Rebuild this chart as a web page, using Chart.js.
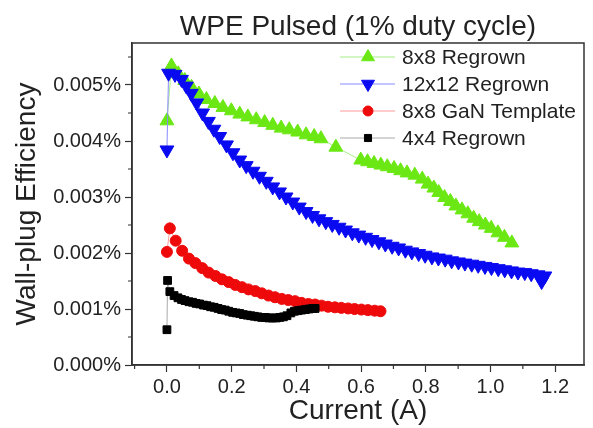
<!DOCTYPE html>
<html lang="en">
<head>
  <meta charset="UTF-8" />
  <title>WPE Pulsed</title>
  <script src="https://cdn.jsdelivr.net/npm/chart.js"></script>
  <style>
    body {
      margin: 0;
      background: #ffffff;
    }
    #chart {
      display: block;
    }
  </style>
</head>
<body>
  <canvas id="chart" width="593" height="428"></canvas>

  <script>
    // Current (A) and wall-plug efficiency (%) for each device
    const i8x8 = [0, 0.014, 0.035, 0.055, 0.076, 0.099, 0.122, 0.148, 0.173, 0.199, 0.225, 0.250, 0.276, 0.302, 0.327,
      0.353, 0.378, 0.404, 0.430, 0.455, 0.476, 0.522, 0.599, 0.620, 0.640, 0.661, 0.681, 0.702, 0.722, 0.742,
      0.766, 0.789, 0.807, 0.825, 0.840, 0.858, 0.876, 0.893, 0.912, 0.930, 0.948, 0.965, 0.984, 1.002, 1.023,
      1.043, 1.066];
    const w8x8 = [0.00436, 0.00534, 0.00520, 0.00508, 0.00496, 0.00484, 0.00474, 0.00467, 0.00460, 0.00454, 0.00448,
      0.00443, 0.00438, 0.00433, 0.00428, 0.00423, 0.00420, 0.00416, 0.00411, 0.00408, 0.00404, 0.00389, 0.00366,
      0.00363, 0.00360, 0.00357, 0.00354, 0.00351, 0.00347, 0.00343, 0.00339, 0.00332, 0.00323, 0.00316, 0.00308,
      0.00299, 0.00292, 0.00284, 0.00277, 0.00270, 0.00262, 0.00256, 0.00250, 0.00244, 0.00236, 0.00228, 0.00218];

    const i12x12 = [0, 0.005, 0.025, 0.045, 0.060, 0.075, 0.092, 0.110, 0.128, 0.145, 0.163, 0.184, 0.204, 0.225,
      0.245, 0.266, 0.286, 0.307, 0.327, 0.348, 0.368, 0.389, 0.409, 0.430, 0.450, 0.470, 0.491, 0.511, 0.532,
      0.552, 0.573, 0.593, 0.614, 0.634, 0.655, 0.675, 0.696, 0.716, 0.737, 0.757, 0.778, 0.798, 0.819, 0.839,
      0.860, 0.880, 0.901, 0.921, 0.942, 0.962, 0.983, 1.003, 1.024, 1.044, 1.065, 1.085, 1.106, 1.126, 1.147,
      1.168, 1.158];
    const w12x12 = [0.00384, 0.00521, 0.00519, 0.00510, 0.00498, 0.00485, 0.00468, 0.00450, 0.00435, 0.00421,
      0.00408, 0.00393, 0.00379, 0.00366, 0.00356, 0.00346, 0.00337, 0.00328, 0.00318, 0.00309, 0.00300, 0.00291,
      0.00282, 0.00274, 0.00267, 0.00261, 0.00256, 0.00251, 0.00246, 0.00241, 0.00236, 0.00232, 0.00228, 0.00224,
      0.00220, 0.00216, 0.00212, 0.00209, 0.00205, 0.00202, 0.00199, 0.00196, 0.00193, 0.00191, 0.00189, 0.00186,
      0.00184, 0.00182, 0.00180, 0.00178, 0.00176, 0.00174, 0.00172, 0.00170, 0.00168, 0.00166, 0.00165, 0.00163,
      0.00161, 0.00159, 0.00149];

    const iGaN = [0, 0.009, 0.027, 0.047, 0.068, 0.088, 0.109, 0.129, 0.150, 0.170, 0.191, 0.211, 0.232, 0.252,
      0.273, 0.293, 0.314, 0.334, 0.355, 0.375, 0.396, 0.416, 0.437, 0.458, 0.478, 0.498, 0.519, 0.539, 0.560,
      0.580, 0.601, 0.621, 0.642, 0.660];
    const wGaN = [0.00202, 0.00244, 0.00222, 0.00204, 0.00190, 0.00182, 0.00173, 0.00165, 0.00159, 0.00153, 0.00148,
      0.00143, 0.00139, 0.00135, 0.00132, 0.00128, 0.00124, 0.00121, 0.00118, 0.00116, 0.00114, 0.00111, 0.00109,
      0.00108, 0.00106, 0.00104, 0.00103, 0.00102, 0.00101, 0.00100, 0.00099, 0.00098, 0.00097, 0.00096];

    const i4x4 = [0, 0.002, 0.009, 0.022, 0.034, 0.045, 0.056, 0.068, 0.079, 0.090, 0.101, 0.113, 0.124, 0.135,
      0.146, 0.158, 0.169, 0.180, 0.191, 0.203, 0.214, 0.225, 0.236, 0.248, 0.259, 0.270, 0.281, 0.293, 0.304,
      0.315, 0.326, 0.338, 0.349, 0.360, 0.371, 0.383, 0.394, 0.405, 0.416, 0.428, 0.439, 0.450, 0.458];
    const w4x4 = [0.00063, 0.00151, 0.00131, 0.00124, 0.00120, 0.00117, 0.00115, 0.00113, 0.00112, 0.00110, 0.00109,
      0.00107, 0.00106, 0.00104, 0.00103, 0.00101, 0.00099, 0.00098, 0.00096, 0.00094, 0.00093, 0.00092, 0.00090,
      0.00089, 0.00088, 0.00087, 0.00086, 0.00085, 0.00085, 0.00084, 0.00084, 0.00084, 0.00085, 0.00086, 0.00088,
      0.00093, 0.00096, 0.00097, 0.00098, 0.00099, 0.00100, 0.00101, 0.00101];

    const seriesNames = ['8x8 Regrown', '12x12 Regrown', '8x8 GaN Template', '4x4 Regrown'];
    const chartTitle = 'WPE Pulsed (1% duty cycle)';

    const FONT = "'Liberation Sans', Arial, sans-serif";
    const toPoints = (xs, ys) => xs.map((x, k) => ({ x: x, y: ys[k] }));

    // major ticks every 0.2 A / 0.001 %, minor ones in between
    const isMajorX = (v) => Math.round(v / 0.1) % 2 === 0;
    const isMajorY = (v) => Math.round(v / 0.0005) % 2 === 0;

    // title centred over the plot area rather than the whole canvas
    const plotTitle = {
      id: 'plotTitle',
      afterDraw(chart) {
        const { ctx, chartArea: a } = chart;
        ctx.save();
        ctx.fillStyle = '#222';
        ctx.font = '28px ' + FONT;
        ctx.textAlign = 'center';
        ctx.textBaseline = 'alphabetic';
        ctx.fillText(chartTitle, (a.left + a.right) / 2, a.top - 8);
        ctx.restore();
      }
    };

    // frame around the plot area and the short minor ticks
    const frame = {
      id: 'frame',
      beforeDatasetsDraw(chart) {
        const { ctx, chartArea: a, scales } = chart;
        ctx.save();
        ctx.strokeStyle = '#333';
        ctx.lineWidth = 1.5;
        ctx.strokeRect(a.left, a.top, a.right - a.left, a.bottom - a.top);
        ctx.lineWidth = 1.2;
        ctx.beginPath();
        scales.x.ticks.forEach((t) => {
          if (isMajorX(t.value)) return;
          const px = scales.x.getPixelForValue(t.value);
          ctx.moveTo(px, a.bottom);
          ctx.lineTo(px, a.bottom + 4);
        });
        scales.y.ticks.forEach((t) => {
          if (isMajorY(t.value)) return;
          const py = scales.y.getPixelForValue(t.value);
          ctx.moveTo(a.left, py);
          ctx.lineTo(a.left - 4, py);
        });
        ctx.stroke();
        ctx.restore();
      }
    };

    // legend with line + marker samples, inside the top right corner
    const lineLegend = {
      id: 'lineLegend',
      afterDatasetsDraw(chart) {
        const { ctx, chartArea: a } = chart;
        ctx.save();
        chart.data.datasets.forEach((ds, k) => {
          const y = a.top + 14 + k * 27;
          ctx.strokeStyle = ds.borderColor;
          ctx.lineWidth = 1;
          ctx.beginPath();
          ctx.moveTo(a.right - 244, y);
          ctx.lineTo(a.right - 189, y);
          ctx.stroke();
          ctx.fillStyle = ds.pointBackgroundColor;
          ctx.strokeStyle = ds.pointBackgroundColor;
          Chart.helpers.drawPoint(ctx, {
            pointStyle: ds.pointStyle,
            rotation: ds.pointRotation || 0,
            radius: ds.legendRadius,
            borderWidth: 1
          }, a.right - 216, y);
          ctx.fillStyle = '#222';
          ctx.font = '21px ' + FONT;
          ctx.textBaseline = 'middle';
          ctx.textAlign = 'left';
          ctx.fillText(ds.label, a.right - 182, y + 1);
        });
        ctx.restore();
      }
    };

    const ctx = document.getElementById('chart').getContext('2d');
    new Chart(ctx, {
      type: 'scatter',
      data: {
        datasets: [
          {
            label: seriesNames[0],
            data: toPoints(i8x8, w8x8),
            showLine: true,
            borderColor: '#a6ef86',
            borderWidth: 1,
            pointStyle: 'triangle',
            pointRadius: 8,
            legendRadius: 7.5,
            pointBackgroundColor: '#6be814',
            pointBorderColor: '#6be814',
            pointBorderWidth: 1,
            order: 3
          },
          {
            label: seriesNames[1],
            data: toPoints(i12x12, w12x12),
            showLine: true,
            borderColor: '#8a8aff',
            borderWidth: 1,
            pointStyle: 'triangle',
            pointRotation: 180,
            pointRadius: 8,
            legendRadius: 7.5,
            pointBackgroundColor: '#0a0af2',
            pointBorderColor: '#0a0af2',
            pointBorderWidth: 1,
            order: 2
          },
          {
            label: seriesNames[2],
            data: toPoints(iGaN, wGaN),
            showLine: true,
            borderColor: '#ff9a9a',
            borderWidth: 1,
            pointStyle: 'circle',
            pointRadius: 5.5,
            legendRadius: 5,
            pointBackgroundColor: '#ee0a0a',
            pointBorderColor: '#ee0a0a',
            pointBorderWidth: 1,
            order: 1
          },
          {
            label: seriesNames[3],
            data: toPoints(i4x4, w4x4),
            showLine: true,
            borderColor: '#aaaaaa',
            borderWidth: 1,
            pointStyle: 'rect',
            pointRadius: 5.5,
            legendRadius: 5,
            pointBackgroundColor: '#000000',
            pointBorderColor: '#000000',
            pointBorderWidth: 1,
            order: 0
          }
        ]
      },
      options: {
        responsive: false,
        animation: false,
        events: [],
        layout: { padding: { left: 0, right: 7, top: 43, bottom: 0 } },
        plugins: {
          legend: { display: false },
          tooltip: { enabled: false },
          title: { display: false }
        },
        scales: {
          x: {
            type: 'linear',
            min: -0.108,
            max: 1.289,
            afterFit(scale) { scale.height = 63; },
            border: { display: true, color: '#333', width: 1.5 },
            grid: {
              drawOnChartArea: false,
              drawTicks: true,
              tickLength: 7,
              tickWidth: 1.2,
              tickColor: (c) => (c.tick && isMajorX(c.tick.value) ? '#333' : 'rgba(0,0,0,0)')
            },
            ticks: {
              stepSize: 0.1,
              includeBounds: false,
              autoSkip: false,
              maxRotation: 0,
              padding: 3,
              color: '#222',
              font: { family: FONT, size: 20 },
              callback: (v) => (isMajorX(v) ? v.toFixed(1) : '')
            },
            title: {
              display: true,
              text: 'Current (A)',
              color: '#222',
              font: { family: FONT, size: 28 },
              padding: { top: 0, bottom: 0 }
            }
          },
          y: {
            type: 'linear',
            min: 0,
            max: 0.00575,
            afterFit(scale) { scale.width = 132; },
            border: { display: true, color: '#333', width: 1.5 },
            grid: {
              drawOnChartArea: false,
              drawTicks: true,
              tickLength: 7,
              tickWidth: 1.2,
              tickColor: (c) => (c.tick && isMajorY(c.tick.value) ? '#333' : 'rgba(0,0,0,0)')
            },
            ticks: {
              stepSize: 0.0005,
              includeBounds: false,
              autoSkip: false,
              padding: 4,
              color: '#222',
              font: { family: FONT, size: 20 },
              callback: (v) => (isMajorY(v) ? v.toFixed(3) + '%' : '')
            },
            title: {
              display: true,
              text: 'Wall-plug Efficiency',
              color: '#222',
              font: { family: FONT, size: 28 },
              padding: { top: 10, bottom: 0 }
            }
          }
        }
      },
      plugins: [frame, lineLegend, plotTitle]
    });
  </script>
</body>
</html>
